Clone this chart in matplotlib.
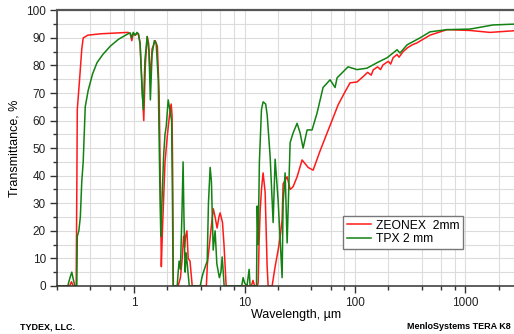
import matplotlib
matplotlib.use("Agg")
import matplotlib.pyplot as plt
from matplotlib.ticker import FixedLocator, MultipleLocator, NullFormatter

plt.rcParams['font.family'] = ['Liberation Sans', 'DejaVu Sans']

# ZEONEX 2mm transmittance (wavelength in um, T in %)
zeonex_wl = [0.2, 0.26, 0.27, 0.28, 0.298, 0.302, 0.305, 0.32, 0.335, 0.345, 0.38, 0.5, 0.7, 0.88,
             0.92, 0.95, 0.98, 1.02, 1.06, 1.09, 1.13, 1.17, 1.22, 1.26, 1.31, 1.35, 1.40, 1.45,
             1.55, 1.62, 1.68, 1.72, 1.76, 1.80, 1.9, 2.0, 2.1, 2.16, 2.2, 2.23, 2.26,
             2.5, 2.62, 2.72, 2.8, 2.86, 2.92, 3.0, 3.08, 3.2, 3.35,
             4.5, 4.6, 4.8, 5.0, 5.2, 5.4, 5.63, 5.85, 6.0, 6.3, 6.5, 6.8,
             11.5, 11.9, 12.3, 13.0, 13.25, 13.5, 13.81, 14.2, 14.69, 15.33, 15.98, 16.32,
             17.74, 18.88, 20.1, 21.0, 21.84, 22.3, 24.25, 25.82, 27.47, 29.86, 33.13, 37.6,
             41.7, 48.2, 55.8, 63.2, 70.2, 80.0, 90.1, 104, 118, 130, 140, 146, 160, 170, 179,
             200, 210, 221, 240, 250, 272, 300, 330, 364, 477, 680, 1099, 1667, 2748]
zeonex_t = [0, 0, 1.5, 0, 0, 35, 64, 75, 86, 90, 91, 91.5, 91.8, 92,
            91.5, 89, 91.5, 91, 91.5, 91.5, 88, 75, 60, 80, 90.5, 88, 75, 86,
            89, 87, 70, 40, 7, 20, 45, 55, 63, 66, 62, 40, 0,
            0, 3, 10, 18, 14, 18, 20, 10, 9, 0,
            0, 8, 15, 22, 28, 25, 21, 25, 26.5, 23, 15, 0,
            0, 2, 0, 0, 1, 15, 27, 35, 41, 34, 7, 0,
            0, 7, 13, 18, 24, 37, 39.6, 35, 36, 39.6, 45.7, 43,
            42, 49, 55.5, 61, 65.7, 70, 73.7, 74, 75.9, 77.5, 76.5, 78.4, 79.5, 78.5, 80.2,
            81.5, 80.5, 82.8, 84, 83, 85, 86.5, 87.5, 88.2, 91, 93, 92.7, 92, 92.6]

# TPX 2 mm transmittance
tpx_wl = [0.2, 0.25, 0.262, 0.272, 0.282, 0.29, 0.302, 0.305, 0.315, 0.325, 0.335, 0.345, 0.36,
          0.383, 0.42, 0.46, 0.52, 0.607, 0.72, 0.88, 0.92, 0.95, 0.98, 1.02, 1.06, 1.09,
          1.13, 1.18, 1.21, 1.25, 1.31, 1.36, 1.40, 1.45, 1.52, 1.58, 1.65, 1.70, 1.74,
          1.78, 1.85, 1.9, 1.95, 2.03, 2.1, 2.18, 2.22, 2.25,
          2.45, 2.5, 2.55, 2.62, 2.7, 2.77, 2.82, 2.89, 2.95, 3.02, 3.1, 3.15,
          3.96, 4.1, 4.21, 4.4, 4.58, 4.7, 4.87, 5.0, 5.19, 5.4, 5.6, 5.9, 6.1, 6.26, 6.4, 6.52,
          9.4, 9.69, 10.0, 10.5, 10.98, 11.2, 12.8, 13.0, 13.25, 13.6, 14.2, 14.69, 15.5, 16.0,
          17.01, 18.11, 18.88, 20.1, 21.84, 22.3, 23.26, 24.25, 25.82, 27.47, 29.86, 31.79,
          33.84, 36.8, 40.8, 45.3, 51.3, 59.4, 65.9, 68.7, 86.4, 104, 128, 158, 195, 240,
          255, 296, 387, 477, 680, 1099, 1774, 2748]
tpx_t = [0, 0, 3, 5, 2, 0, 0, 18, 20, 25, 38, 45, 65,
         71, 77, 81, 84, 87, 89.5, 91.5, 91.8, 90, 92, 91, 92, 91.5,
         88, 70, 64, 82, 90.5, 85, 67.5, 84, 89, 88, 75, 40, 18,
         30, 48, 55, 58, 67.5, 64, 60, 30, 0,
         0, 5, 9, 6, 25, 45, 25, 5, 12, 8, 3, 0,
         0, 3, 4.7, 7, 9, 30, 43, 38, 13, 20, 8, 3, 5, 10.5, 5, 0,
         0, 3, 1, 0, 6, 0, 0, 29, 15, 45, 64, 66.8, 66, 62,
         47, 23, 46, 31, 3, 30, 41, 15.6, 52, 55.5, 59, 55.5,
         50, 56.6, 56.6, 62.8, 72, 74.8, 72, 75.5, 79.5, 78.5, 79, 81, 82.8, 85.7,
         84.5, 87.5, 90, 92.2, 93, 93.2, 94.7, 95]

fig = plt.figure(figsize=(5.14, 3.34), dpi=100)
ax = fig.add_axes([0.111, 0.144, 0.889, 0.825])

ax.plot(zeonex_wl, zeonex_t, color='#ff1a1a', lw=1.1, label='ZEONEX  2mm')
ax.plot(tpx_wl, tpx_t, color='#128212', lw=1.1, label='TPX 2 mm')

ax.set_xscale('log')
ax.set_xlim(0.2, 2750)
ax.set_ylim(0, 100)
ax.xaxis.set_major_locator(FixedLocator([1, 10, 100, 1000]))
ax.set_xticklabels(['1', '10', '100', '1000'])
ax.xaxis.set_minor_locator(FixedLocator([m * 10.0 ** e for e in range(-1, 4) for m in (2, 4, 6, 8)]))
ax.xaxis.set_minor_formatter(NullFormatter())
ax.yaxis.set_major_locator(MultipleLocator(10))
ax.yaxis.set_minor_locator(MultipleLocator(5))

ax.grid(True, which='both', color='#dcdcdc', lw=0.8)
ax.set_axisbelow(True)
ax.tick_params(which='major', direction='out', length=5, width=1, color='#333333',
               labelsize=8.5, labelcolor='#222222', pad=3)
ax.tick_params(which='minor', direction='out', length=3, width=1, color='#333333')

for s in ('left', 'bottom'):
    ax.spines[s].set_color('#333333')
    ax.spines[s].set_linewidth(1.1)
ax.spines['top'].set_color('#555555')
ax.spines['top'].set_linewidth(1.6)
ax.spines['right'].set_visible(False)

ax.set_ylabel('Transmittance, %', fontsize=9, labelpad=4)
fig.text(0.576, 0.056, 'Wavelength, \u00b5m', fontsize=9, ha='center', va='center')

leg = ax.legend(loc='lower left', bbox_to_anchor=(0.626, 0.134), borderaxespad=0,
                fontsize=8.7, handlelength=2.0, handletextpad=0.45, borderpad=0.3,
                labelspacing=0.15, fancybox=False, framealpha=1, edgecolor='#777777')
leg.get_frame().set_linewidth(1.0)

fig.text(0.039, 0.022, 'TYDEX, LLC.', fontsize=6.5, fontweight='bold', va='center')
fig.text(0.792, 0.022, 'MenloSystems TERA K8', fontsize=6.5, fontweight='bold', va='center')

fig.savefig('out.png', dpi=100)
